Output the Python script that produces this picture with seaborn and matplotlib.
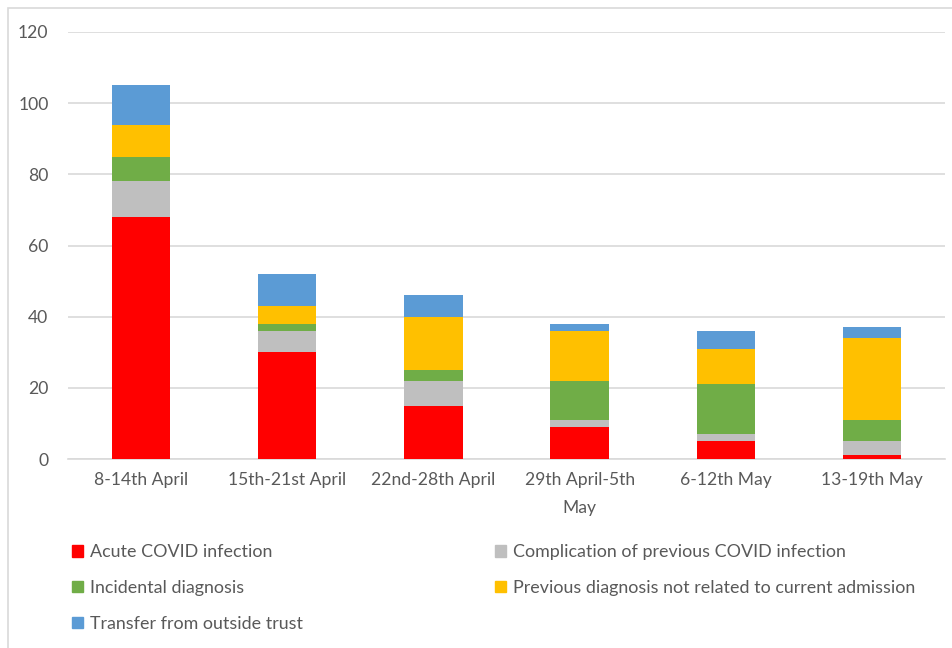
import numpy as np
import pandas as pd
import matplotlib.pyplot as plt
import matplotlib.patches as mpatches
import seaborn as sns

# Weekly admissions by category
weeks = ["8-14th April", "15th-21st April", "22nd-28th April",
         "29th April-5th\nMay", "6-12th May", "13-19th May"]
acute = [68, 30, 15, 9, 5, 1]
complication = [10, 6, 7, 2, 2, 4]
incidental = [7, 2, 3, 11, 14, 6]
previous = [9, 5, 15, 14, 10, 23]
transfer = [11, 9, 6, 2, 5, 3]

categories = ["Acute COVID infection", "Complication of previous COVID infection",
              "Incidental diagnosis", "Previous diagnosis not related to current admission",
              "Transfer from outside trust"]
colors = ["#FF0000", "#BFBFBF", "#70AD47", "#FFC000", "#5B9BD5"]

df = pd.DataFrame({"week": weeks, categories[0]: acute, categories[1]: complication,
                   categories[2]: incidental, categories[3]: previous, categories[4]: transfer})
cum = df[categories].cumsum(axis=1)

sns.set_style("white")
plt.rcParams["font.family"] = ["Lato", "DejaVu Sans"]

fig = plt.figure(figsize=(9.53, 6.48), dpi=100)
ax = fig.add_axes([68 / 953, 1 - 459 / 648, (945 - 68) / 953, (459 - 32) / 648])

# stacked bars: draw cumulative totals from the top down so each layer covers the one above
for cat, col in reversed(list(zip(categories, colors))):
    sns.barplot(x=df["week"], y=cum[cat], color=col, width=0.4, ax=ax,
                saturation=1, linewidth=0, zorder=3)

ax.set_ylim(0, 120)
ax.set_xlim(-0.5, 5.5)
ax.set_yticks(np.arange(0, 121, 20))
ax.set_xlabel("")
ax.set_ylabel("")
ax.grid(axis="y", color="#D9D9D9", linewidth=1.2, zorder=0)
ax.grid(axis="x", visible=False)
for s in ["top", "right", "left"]:
    ax.spines[s].set_visible(False)
ax.spines["bottom"].set_color("#D9D9D9")
ax.spines["bottom"].set_linewidth(1.2)
ax.tick_params(axis="both", length=0, labelsize=12.6, labelcolor="#595959")
ax.tick_params(axis="y", pad=14)
ax.tick_params(axis="x", pad=9)
for lab in ax.get_xticklabels():
    lab.set_linespacing(2.0)

# legend in two columns, row-major order like the original
handles = [mpatches.Patch(color=c, label=l) for c, l in zip(colors, categories)]
leg_kw = dict(frameon=False, fontsize=12.9, labelcolor="#595959", handlelength=0.6,
              handleheight=0.6, handletextpad=0.4, labelspacing=1.1, loc="upper left")
fig.legend(handles=[handles[0], handles[2], handles[4]], bbox_to_anchor=(0.059, 0.185), **leg_kw)
fig.legend(handles=[handles[1], handles[3]], bbox_to_anchor=(0.503, 0.185), **leg_kw)

# chart area border
fig.patches.append(mpatches.Rectangle((8 / 953, -0.1), 1.2, 1 - 8 / 648 + 0.1,
                                      transform=fig.transFigure, fill=False,
                                      edgecolor="#D9D9D9", linewidth=1.2))

fig.savefig("out.png", dpi=100)
